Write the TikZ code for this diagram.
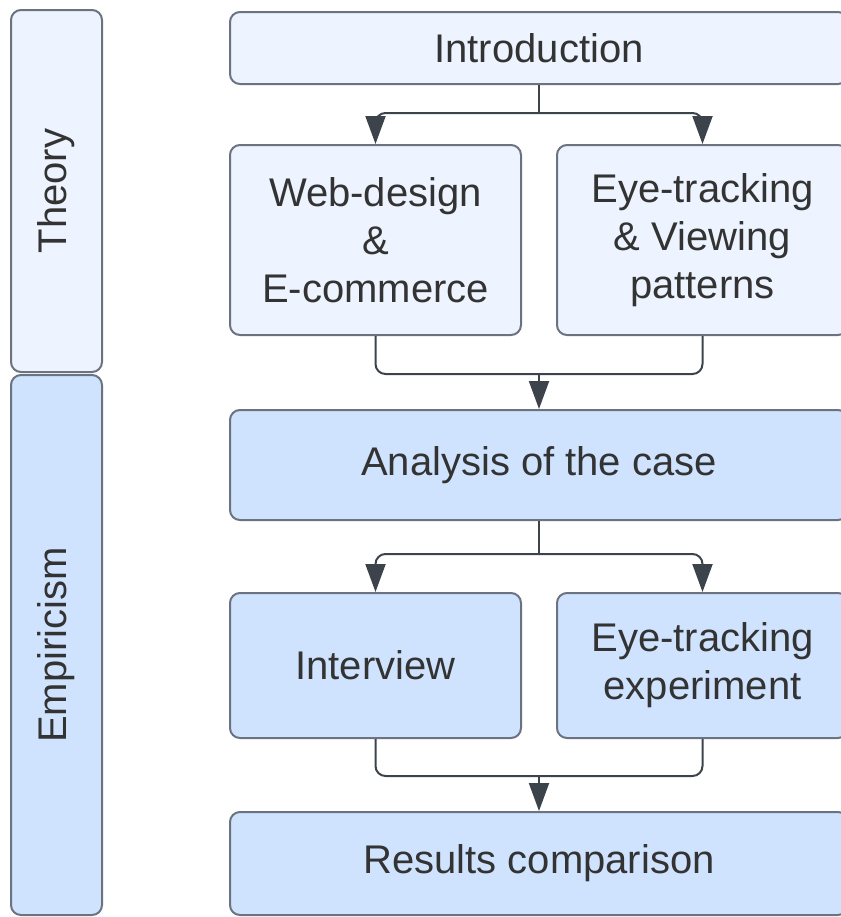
\documentclass[tikz,border=0pt]{standalone}
\usepackage{fontspec}
\setmainfont{Liberation Sans}
\usetikzlibrary{arrows.meta}

\definecolor{theoryfill}{HTML}{EDF4FF}
\definecolor{empfill}{HTML}{CFE3FF}
\definecolor{boxline}{HTML}{6B7280}
\definecolor{arrline}{HTML}{3D434B}
\definecolor{txt}{HTML}{333333}

\tikzset{
  box/.style={draw=boxline, line width=1pt, rounded corners=5pt, align=center,
    text=txt, font=\fontsize{20}{24}\selectfont, inner sep=0pt},
  theory/.style={box, fill=theoryfill},
  empir/.style={box, fill=empfill},
  link/.style={draw=arrline, line width=1pt, rounded corners=5pt},
  arr/.style={draw=arrline, line width=1pt, -{Triangle[width=10pt,length=14pt]}}
}

\begin{document}
\begin{tikzpicture}[x=0.5pt, y=-0.5pt]
		%%%%% START %%%%%
		\useasboundingbox (0,0) rectangle (841,917);
		\clip (0,0) rectangle (841,917);
		
		% side bars
		\node[theory, minimum width=45.5pt, minimum height=181pt] (theorybar) at (56.5,191) {};
		\node[rotate=90, text=txt, font=\fontsize{20}{24}\selectfont] at (theorybar.center) {Theory};
		\node[empir, minimum width=45.5pt, minimum height=270pt] (empbar) at (56.5,645) {};
		\node[rotate=90, text=txt, font=\fontsize{20}{24}\selectfont] at (empbar.center) {Empiricism};
		
		% theory part
		\node[theory, minimum width=309pt, minimum height=36pt] (intro) at (539,48) {Introduction};
		\node[theory, minimum width=145.5pt, minimum height=95pt] (web) at (375.5,240) {Web-design\\\&\\E-commerce};
		\node[theory, minimum width=145.5pt, minimum height=95pt] (eyetrack) at (702.5,240) {Eye-tracking\\\& Viewing\\patterns};
		
		% empirical part
		\node[empir, minimum width=309pt, minimum height=55pt] (analysis) at (539,465) {Analysis of the case};
		\node[empir, minimum width=145.5pt, minimum height=72.5pt] (interview) at (375.5,665.5) {Interview};
		\node[empir, minimum width=145.5pt, minimum height=72.5pt] (experiment) at (702.5,665.5) {Eye-tracking\\experiment};
		\node[empir, minimum width=309pt, minimum height=51.5pt] (results) at (539,863.5) {Results comparison};
		
		% forks
		\coordinate (fork1) at (539,113);
		\coordinate (fork2) at (539,554);
		\draw[link] (intro.south) -- (fork1);
		\draw[arr] (fork1) [rounded corners=5pt] -| (web.north) [sharp corners];
		\draw[arr] (fork1) [rounded corners=5pt] -| (eyetrack.north) [sharp corners];
		\draw[link] (analysis.south) -- (fork2);
		\draw[arr] (fork2) [rounded corners=5pt] -| (interview.north) [sharp corners];
		\draw[arr] (fork2) [rounded corners=5pt] -| (experiment.north) [sharp corners];
		
		% joins
		\coordinate (join1) at (539,374);
		\coordinate (join2) at (539,776);
		\draw[link] (web.south) |- (join1) -| (eyetrack.south);
		\draw[arr] (join1) -- (analysis.north);
		\draw[link] (interview.south) |- (join2) -| (experiment.south);
		\draw[arr] (join2) -- (results.north);
		
		%%%%% END %%%%%
\end{tikzpicture}
\end{document}
